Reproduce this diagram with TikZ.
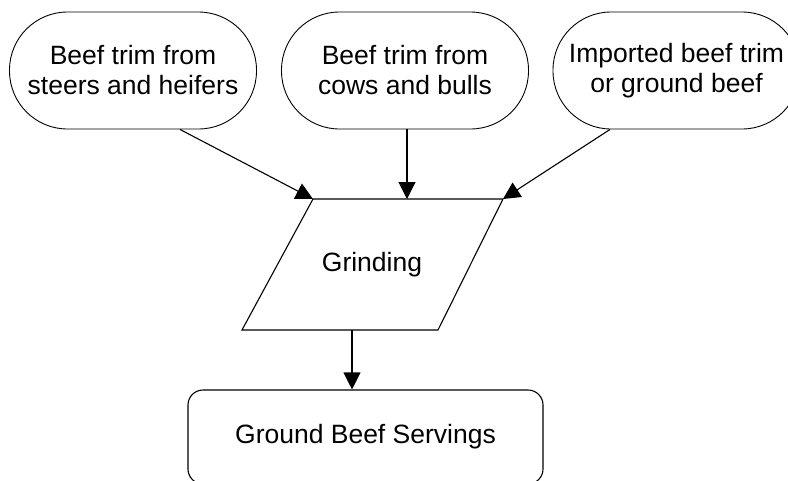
\documentclass[tikz,border=0pt]{standalone}
\usepackage{fontspec}
\setmainfont{Liberation Sans}
\usetikzlibrary{arrows.meta}
\begin{document}
\begin{tikzpicture}[x=1pt,y=-1pt,
  txt/.style={font=\fontsize{26.5}{30}\selectfont, align=center},
  stadium/.style={txt, draw, line width=0.9pt, minimum width=247pt, minimum height=117pt, rounded corners=58pt, inner sep=0pt},
  endbox/.style={txt, draw, line width=1.1pt, minimum width=355pt, minimum height=94pt, rounded corners=15pt, inner sep=0pt},
  arr/.style={line width=1.1pt, -{Triangle[length=17pt, width=17pt]}},
  shapeline/.style={line width=1.1pt}
]
\useasboundingbox (0,0) rectangle (788,480);
\node[stadium] (s1) at (133,70.5) {Beef trim from\\steers and heifers};
\node[stadium] (s2) at (405,70.5) {Beef trim from\\cows and bulls};
\node[stadium] (s3) at (676.5,70.5) {Imported beef trim\\or ground beef};
% Grinding parallelogram
\coordinate (gtl) at (313,199);
\coordinate (gtr) at (503,199);
\coordinate (gbr) at (438,330);
\coordinate (gbl) at (242,330);
\draw[shapeline] (gtl) -- (gtr) -- (gbr) -- (gbl) -- cycle;
\node[txt] (g) at (372,265) {Grinding};
\coordinate (gtm) at (407,199);
\coordinate (gbm) at (352,330);
\node[endbox] (b) at (365.5,437) {Ground Beef Servings};
\draw[arr] ([xshift=47pt]s1.south) -- (gtl);
\draw[arr] ([xshift=2pt]s2.south) -- (gtm);
\draw[arr] ([xshift=-66.5pt]s3.south) -- (gtr);
\draw[arr] (gbm) -- (gbm |- b.north);
\end{tikzpicture}
\end{document}
